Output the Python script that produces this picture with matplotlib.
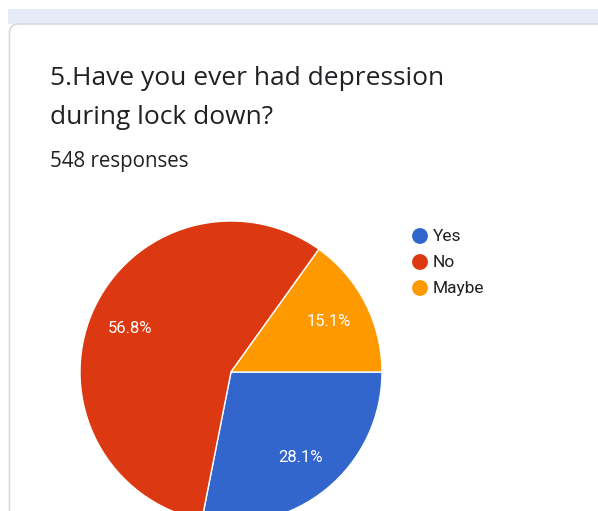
import matplotlib
matplotlib.use("Agg")
import matplotlib.pyplot as plt
from matplotlib.patches import FancyBboxPatch, Rectangle

# survey answers
LABELS = ["Yes", "No", "Maybe"]
SHARES = [28.1, 56.8, 15.1]
COLORS = ["#3366cc", "#dc3912", "#ff9900"]

TITLE_LINES = ["5.Have you ever had depression", "during lock down?"]
SUBTITLE = "548 responses"

W, H = 598, 511
plt.rcParams["font.family"] = ["Roboto", "DejaVu Sans"]

fig = plt.figure(figsize=(W / 100, H / 100), dpi=100)
ax = fig.add_axes([0, 0, 1, 1])

# pie in pixel coordinates (y measured from bottom)
cx, cy, r = 231, H - 372, 151
wedges, _, autotexts = ax.pie(
    SHARES, colors=COLORS, startangle=0, counterclock=False,
    center=(cx, cy), radius=r, autopct="%.1f%%", pctdistance=0.73,
    wedgeprops={"edgecolor": "white", "linewidth": 1.0},
    textprops={"color": "white", "fontsize": 12},
)

ax.set_xlim(0, W)
ax.set_ylim(0, H)
ax.set_aspect("auto")
ax.axis("off")

# header band and card outline
ax.add_patch(Rectangle((8, H - 24), W, 15, facecolor="#e6ecf7",
                       edgecolor="none", zorder=-3))
card = FancyBboxPatch((9.5, -20), W + 20, H - 24 + 20,
                      boxstyle="round,pad=0,rounding_size=9",
                      facecolor="white", edgecolor="#d6d9de", linewidth=1.2,
                      zorder=-2)
ax.add_patch(card)

for line, base in zip(TITLE_LINES, [85, 124]):
    ax.text(50, H - base, line, fontsize=19, color="#202124",
            family=["Open Sans", "DejaVu Sans"], va="baseline", ha="left")
ax.text(50, H - 167, SUBTITLE, fontsize=14.8, color="#202124",
        family=["Open Sans", "DejaVu Sans"], va="baseline", ha="left")

# legend
for i, (lab, col) in enumerate(zip(LABELS, COLORS)):
    y = H - (236 + 26 * i)
    ax.scatter([420], [y], s=130, color=col, edgecolor="none", zorder=3)
    ax.text(433, y, lab, fontsize=12.5, color="#202124",
            va="center", ha="left")

fig.savefig("out.png", dpi=100)
